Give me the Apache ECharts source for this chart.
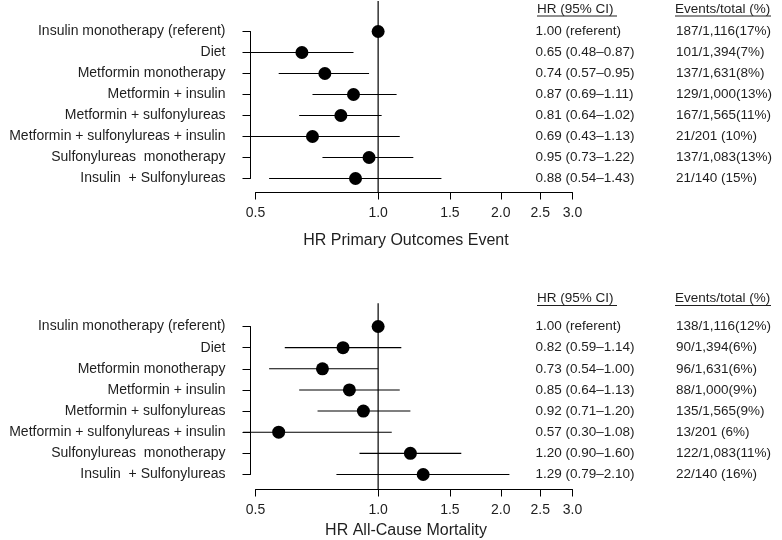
<!DOCTYPE html>
<html><head><meta charset="utf-8">
<script src="https://cdn.jsdelivr.net/npm/echarts@6/dist/echarts.min.js"></script>
<style>html,body{margin:0;padding:0;background:#fff}#c{width:782px;height:540px}</style>
</head><body><div id="c"></div>
<script>
const categories = ['Insulin monotherapy (referent)', 'Diet', 'Metformin monotherapy', 'Metformin + insulin',
  'Metformin + sulfonylureas', 'Metformin + sulfonylureas + insulin', 'Sulfonylureas  monotherapy', 'Insulin  + Sulfonylureas'];

const primaryHR = [1.00, 0.65, 0.74, 0.87, 0.81, 0.69, 0.95, 0.88];
const primaryLo = [null, 0.48, 0.57, 0.69, 0.64, 0.43, 0.73, 0.54];
const primaryHi = [null, 0.87, 0.95, 1.11, 1.02, 1.13, 1.22, 1.43];
const primaryEvents = ['187/1,116(17%)', '101/1,394(7%)', '137/1,631(8%)', '129/1,000(13%)',
  '167/1,565(11%)', '21/201 (10%)', '137/1,083(13%)', '21/140 (15%)'];

const mortalityHR = [1.00, 0.82, 0.73, 0.85, 0.92, 0.57, 1.20, 1.29];
const mortalityLo = [null, 0.59, 0.54, 0.64, 0.71, 0.30, 0.90, 0.79];
const mortalityHi = [null, 1.14, 1.00, 1.13, 1.20, 1.08, 1.60, 2.10];
const mortalityEvents = ['138/1,116(12%)', '90/1,394(6%)', '96/1,631(6%)', '88/1,000(9%)',
  '135/1,565(9%)', '13/201 (6%)', '122/1,083(11%)', '22/140 (16%)'];

const tickValues = [0.5, 1.0, 1.5, 2.0, 2.5, 3.0];
const tickLabels = ['0.5', '1.0', '1.5', '2.0', '2.5', '3.0'];
const axisTitles = ['HR Primary Outcomes Event', 'HR All-Cause Mortality'];
const headerHR = 'HR (95% CI)';
const headerEvents = 'Events/total (%)';

const L = v => Math.log(v) / Math.LN2;
const FONT = '"Liberation Sans", Arial, Helvetica, sans-serif';
const INK = '#1e1e1e';
const f2 = v => v.toFixed(2);
const hrText = (hr, lo, hi) => hr.map((h, i) => lo[i] == null ? f2(h) + ' (referent)' : f2(h) + ' (' + f2(lo[i]) + '\u2013' + f2(hi[i]) + ')');

const panels = [
  {hr: primaryHR, lo: primaryLo, hi: primaryHi, ev: primaryEvents, top: 31.5, height: 147, xOff: 14, nameGap: 40, refTop: -1.45, refBot: 7.67, headY: 9},
  {hr: mortalityHR, lo: mortalityLo, hi: mortalityHi, ev: mortalityEvents, top: 326.5, height: 148, xOff: 15, nameGap: 33, refTop: -1.1, refBot: 7.7, headY: 298.5}
];
const clampLo = 0.466;

const grid = [], xAxis = [], yAxis = [], series = [], graphic = [];
panels.forEach((p, k) => {
  grid.push({left: 255.5, right: 209.5, top: p.top, height: p.height, containLabel: false, outerBoundsMode: 'none'});
  const labelFmt = v => {
    const i = tickValues.findIndex(t => Math.abs(L(t) - v) < 1e-6);
    return i >= 0 ? tickLabels[i] : '';
  };
  xAxis.push({
    gridIndex: k, type: 'value', position: 'bottom', min: L(0.5), max: L(3.0), offset: p.xOff,
    axisLine: {show: true, onZero: false, lineStyle: {color: '#000', width: 1}},
    axisTick: {show: true, length: 7, customValues: tickValues.map(L), lineStyle: {color: '#000'}},
    axisLabel: {customValues: tickValues.map(L), formatter: labelFmt, margin: 14, color: INK, fontSize: 14, fontFamily: FONT},
    splitLine: {show: false},
    name: axisTitles[k], nameLocation: 'middle', nameGap: p.nameGap,
    nameTextStyle: {color: INK, fontSize: 16, fontFamily: FONT, padding: [0, 16, 0, 0]}
  });
  const hrt = hrText(p.hr, p.lo, p.hi);
  const base = {gridIndex: k, type: 'value', min: 0, max: 7, interval: 1, inverse: true, splitLine: {show: false}};
  yAxis.push(Object.assign({}, base, {
    position: 'left', offset: 5,
    axisLine: {show: true, onZero: false, lineStyle: {color: '#000', width: 1}},
    axisTick: {show: true, length: 8, lineStyle: {color: '#000'}},
    axisLabel: {formatter: v => categories[v] || '', margin: 25, color: INK, fontSize: 14, fontFamily: FONT, padding: [8, 0, 0, 0]}
  }));
  yAxis.push(Object.assign({}, base, {
    position: 'right', offset: -37,
    axisLine: {show: false, onZero: false}, axisTick: {show: false},
    axisLabel: {formatter: v => hrt[v] || '', margin: 0, color: INK, fontSize: 13.5, fontFamily: FONT, padding: [8, 0, 0, 0]}
  }));
  yAxis.push(Object.assign({}, base, {
    position: 'right', offset: 103.5,
    axisLine: {show: false, onZero: false}, axisTick: {show: false},
    axisLabel: {formatter: v => p.ev[v] || '', margin: 0, color: INK, fontSize: 13.5, fontFamily: FONT, padding: [8, 0, 0, 0]}
  }));
  const yIdx = k * 3;
  series.push({
    type: 'custom', xAxisIndex: k, yAxisIndex: yIdx, clip: false, silent: true,
    data: [[L(1.0), p.refTop, p.refBot]],
    renderItem: (params, api) => {
      const a = api.coord([api.value(0), api.value(1)]);
      const b = api.coord([api.value(0), api.value(2)]);
      return {type: 'line', shape: {x1: a[0], y1: a[1], x2: b[0], y2: b[1]}, style: {stroke: '#000', lineWidth: 1.2}};
    }
  });
  series.push({
    type: 'custom', xAxisIndex: k, yAxisIndex: yIdx, clip: false, silent: true,
    data: p.hr.map((h, i) => p.lo[i] == null ? null : [L(Math.max(p.lo[i], clampLo)), L(p.hi[i]), i]).filter(d => d),
    renderItem: (params, api) => {
      const a = api.coord([api.value(0), api.value(2)]);
      const b = api.coord([api.value(1), api.value(2)]);
      return {type: 'line', shape: {x1: a[0], y1: a[1], x2: b[0], y2: b[1]}, style: {stroke: '#000', lineWidth: 1.1}};
    }
  });
  series.push({
    type: 'scatter', xAxisIndex: k, yAxisIndex: yIdx, symbol: 'circle', symbolSize: 13, silent: true,
    itemStyle: {color: '#000', opacity: 1}, z: 5,
    data: p.hr.map((h, i) => [L(h), i])
  });
  graphic.push({type: 'text', left: 537, top: p.headY - 7, style: {text: headerHR, fill: INK, font: '13.5px ' + FONT}});
  graphic.push({type: 'line', shape: {x1: 537, y1: p.headY + 7, x2: 617, y2: p.headY + 7}, style: {stroke: INK, lineWidth: 1}});
  graphic.push({type: 'text', left: 675, top: p.headY - 7, style: {text: headerEvents, fill: INK, font: '13.5px ' + FONT}});
  graphic.push({type: 'line', shape: {x1: 675, y1: p.headY + 7, x2: 771, y2: p.headY + 7}, style: {stroke: INK, lineWidth: 1}});
});

const chart = echarts.init(document.getElementById('c'), null, {renderer: 'canvas'});
chart.setOption({animation: false, backgroundColor: '#fff', grid, xAxis, yAxis, series, graphic});
</script></body></html>
